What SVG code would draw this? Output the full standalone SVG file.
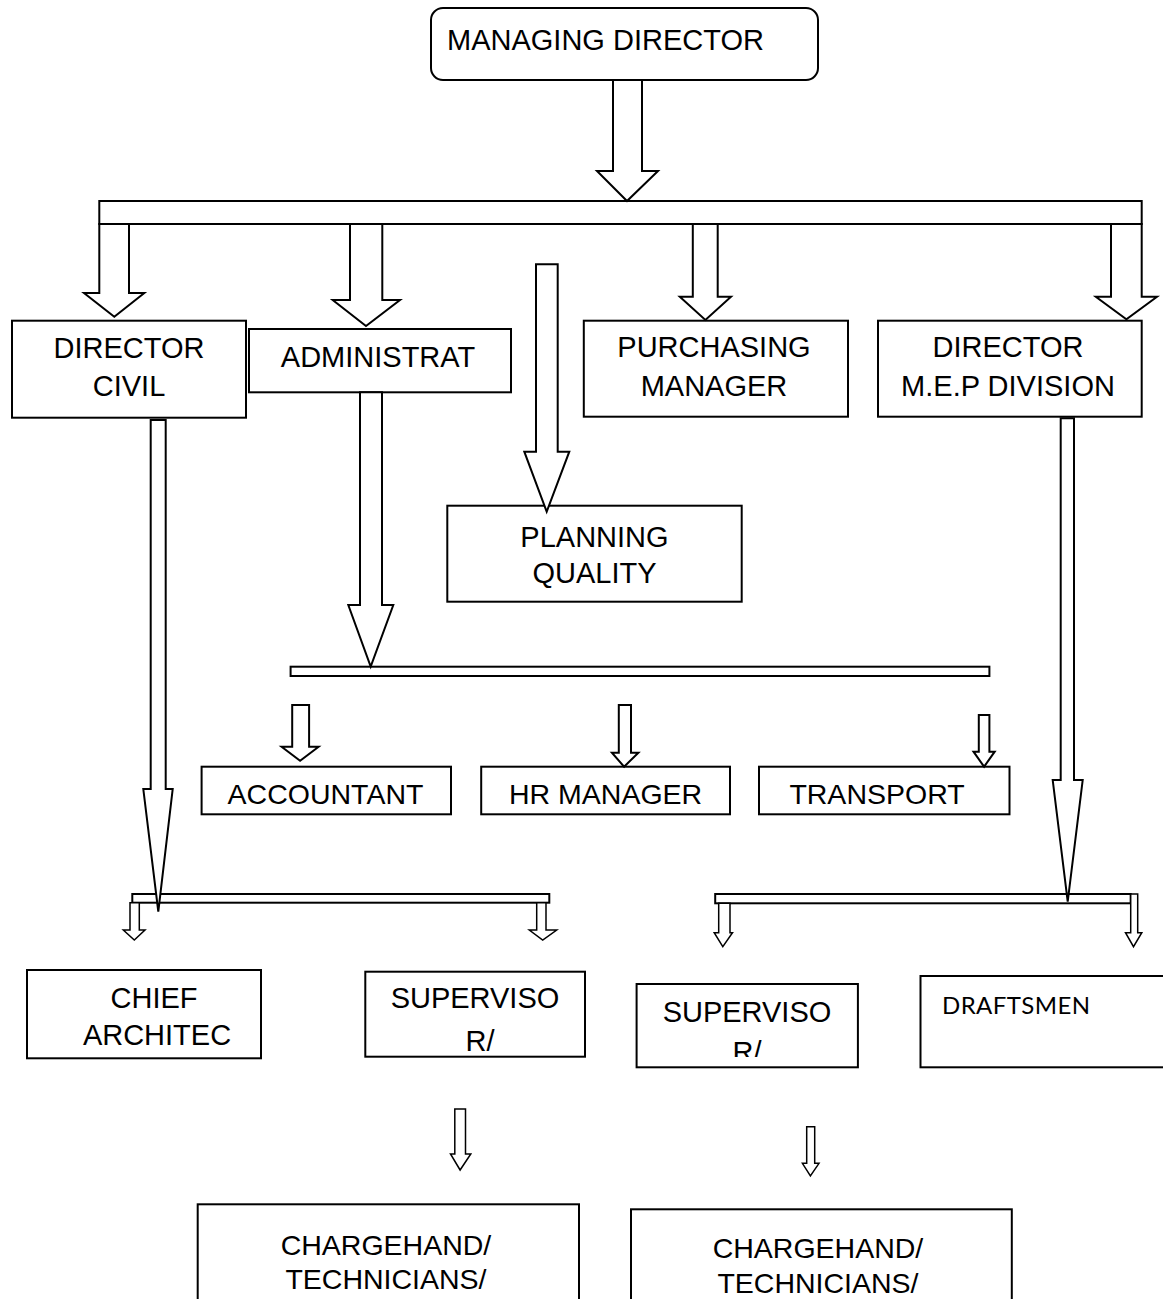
<svg xmlns="http://www.w3.org/2000/svg" width="1163" height="1299" viewBox="0 0 1163 1299">
<style>
.box{fill:#fff;stroke:#000;stroke-width:2}
.bar{fill:#fff;stroke:#000;stroke-width:2}
.arr{fill:#fff;stroke:#000;stroke-width:2;stroke-linejoin:miter}
.sarr{fill:#fff;stroke:#000;stroke-width:1.5}
.t{font-family:"Liberation Sans",Arial,sans-serif;font-size:29px;fill:#000;text-anchor:middle}
.ts{font-family:"Liberation Sans",Arial,sans-serif;font-size:28.5px;fill:#000;text-anchor:middle}
.tl{font-family:"Liberation Sans",Arial,sans-serif;font-size:29px;fill:#000}
.tc{font-family:Lato,"Open Sans",sans-serif;font-size:24px;fill:#000}
</style>
<defs>
<clipPath id="clipSupL"><rect x="366" y="972" width="218" height="83"/></clipPath>
<clipPath id="clipSupR"><rect x="637" y="985" width="220" height="72"/></clipPath>
</defs>
<rect width="1163" height="1299" fill="#fff"/>
<g id="nodes">
<g id="managing-director"><rect class="box" x="431" y="8" width="387" height="72" rx="12"/><text class="tl" x="447" y="50">MANAGING DIRECTOR</text></g>
<g id="director-civil"><rect class="box" x="12" y="320.7" width="234" height="97"/><text class="t" x="129" y="357.7">DIRECTOR</text><text class="t" x="129" y="395.7">CIVIL</text></g>
<g id="administrat"><rect class="box" x="249" y="329" width="262" height="63.3"/><text class="t" x="378" y="366.7">ADMINISTRAT</text></g>
<g id="purchasing-manager"><rect class="box" x="583.8" y="320.7" width="264.2" height="96"/><text class="t" x="714" y="356.7">PURCHASING</text><text class="t" x="714" y="395.7">MANAGER</text></g>
<g id="director-mep"><rect class="box" x="878" y="320.7" width="263.7" height="96"/><text class="t" x="1008" y="356.7">DIRECTOR</text><text class="t" x="1008" y="395.7">M.E.P DIVISION</text></g>
<g id="planning-quality"><rect class="box" x="447.3" y="505.7" width="294.4" height="96"/><text class="t" x="594.5" y="546.7">PLANNING</text><text class="t" x="594.5" y="583.3">QUALITY</text></g>
<g id="accountant"><rect class="box" x="201.6" y="766.7" width="249.4" height="47.6"/><text class="ts" x="325.5" y="804">ACCOUNTANT</text></g>
<g id="hr-manager"><rect class="box" x="481.2" y="766.7" width="248.8" height="47.6"/><text class="ts" x="605.6" y="804">HR MANAGER</text></g>
<g id="transport"><rect class="box" x="759" y="766.7" width="250.5" height="47.6"/><text class="ts" x="877" y="804">TRANSPORT</text></g>
<g id="chief-architec"><rect class="box" x="27" y="970" width="234" height="88.3"/><text class="t" x="154" y="1008.3">CHIEF</text><text class="t" x="157" y="1045">ARCHITEC</text></g>
<g id="supervisor-civil"><rect class="box" x="365.3" y="971.7" width="219.7" height="85"/><text class="t" x="475" y="1007.7">SUPERVISO</text><text class="t" x="480" y="1051" clip-path="url(#clipSupL)">R/</text></g>
<g id="supervisor-mep"><rect class="box" x="636.6" y="984" width="221.3" height="83.3"/><text class="t" x="747" y="1062" clip-path="url(#clipSupR)">R/</text><text class="t" x="747" y="1021.7">SUPERVISO</text></g>
<g id="draftsmen"><rect class="box" x="920.5" y="976" width="260" height="91.3"/><text class="tc" x="942" y="1014" textLength="148" lengthAdjust="spacing">DRAFTSMEN</text></g>
<g id="chargehand-civil"><rect class="box" x="197.7" y="1204.3" width="381.3" height="110"/><text class="ts" x="386" y="1255">CHARGEHAND/</text><text class="ts" x="386" y="1289.3">TECHNICIANS/</text></g>
<g id="chargehand-mep"><rect class="box" x="631" y="1209.3" width="380.8" height="110"/><text class="ts" x="818" y="1258.3">CHARGEHAND/</text><text class="ts" x="818" y="1293.3">TECHNICIANS/</text></g>
</g>
<g id="connectors">
<rect class="bar" x="99.3" y="201" width="1042.4" height="23"/>
<rect class="bar" x="290.6" y="666.7" width="698.8" height="9.3"/>
<rect class="bar" x="132.3" y="894" width="417" height="8.7"/>
<rect class="bar" x="715.2" y="894" width="415.5" height="9.3"/>
<polygon class="arr" points="613,80 642,80 642,171 658,171 627,201 597,171 613,171"/>
<polygon class="arr" points="99.3,224 129,224 129,293 144.3,293 114.3,316.7 84,293 99.3,293"/>
<polygon class="arr" points="350,224 382.3,224 382.3,300 400,300 366,326 332.7,300 350,300"/>
<polygon class="arr" points="692.8,224 717.7,224 717.7,296.7 731,296.7 705.4,320 679.8,296.7 692.8,296.7"/>
<polygon class="arr" points="1111,224 1141.7,224 1141.7,296.7 1157,296.7 1126.4,319.3 1095.8,296.7 1111,296.7"/>
<polygon class="arr" points="536,264.3 557.7,264.3 557.7,451.7 569.3,451.7 546.7,511.7 524.3,451.7 536,451.7"/>
<polygon class="arr" points="360,392.3 382,392.3 382,605 393.3,605 370.7,666.7 348.3,605 360,605"/>
<polygon class="arr" points="150.7,420 165.7,420 165.7,789 172.7,789 158.3,911.7 143.3,789 150.7,789"/>
<polygon class="arr" points="1060.7,418.3 1074,418.3 1074,780 1082.7,780 1067.7,901.7 1052.7,780 1060.7,780"/>
<polygon class="arr" points="292.2,705 309.1,705 309.1,746.7 318.6,746.7 300.1,760.7 281.6,746.7 292.2,746.7"/>
<polygon class="arr" points="618.8,705 631,705 631,752.7 638.4,752.7 624.1,766.7 611.9,752.7 618.8,752.7"/>
<polygon class="arr" points="978.8,715 989.4,715 989.4,751.7 994.7,751.7 984.1,766.7 973.5,751.7 978.8,751.7"/>
<polygon class="sarr" points="130,902.7 139.3,902.7 139.3,930 145,930 134.3,940 123.3,930 130,930"/>
<polygon class="sarr" points="536.7,902.7 546,902.7 546,930 556.7,930 542.7,940 529.3,930 536.7,930"/>
<polygon class="sarr" points="718.7,903.3 730,903.3 730,932.7 732.5,932.7 722.8,946.7 714.2,932.7 718.7,932.7"/>
<polygon class="sarr" points="1130.7,894 1137.7,894 1137.7,932.7 1141.8,932.7 1133.5,946.7 1125.5,932.7 1130.7,932.7"/>
<polygon class="sarr" points="454.8,1109 465.5,1109 465.5,1154 470.8,1154 460.1,1170 450.5,1154 454.8,1154"/>
<polygon class="sarr" points="806.7,1126.7 814.7,1126.7 814.7,1163.3 819,1163.3 810.4,1176 802.4,1163.3 806.7,1163.3"/>
</g>
</svg>
